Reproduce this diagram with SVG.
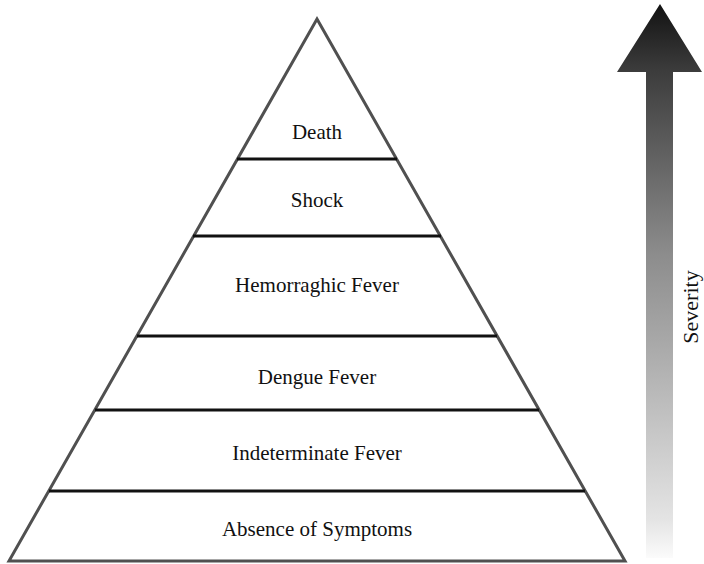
<svg xmlns="http://www.w3.org/2000/svg" width="704" height="564" viewBox="0 0 704 564">
<style>
.lbl{font-family:"Liberation Serif","Times New Roman",serif;font-size:21px;fill:#111;text-anchor:middle}
.outline{fill:none;stroke:#505050;stroke-width:3;stroke-linejoin:miter}
.div{stroke:#111;stroke-width:3}
</style>
<defs>
<linearGradient id="sev" gradientUnits="userSpaceOnUse" x1="0" y1="4" x2="0" y2="558">
<stop offset="0" stop-color="#121212"/>
<stop offset="0.12" stop-color="#3c3c3c"/>
<stop offset="0.45" stop-color="#8c8c8c"/>
<stop offset="0.62" stop-color="#aaaaaa"/>
<stop offset="0.93" stop-color="#e4e4e4"/>
<stop offset="1" stop-color="#fbfbfb"/>
</linearGradient>
</defs>
<rect width="704" height="564" fill="#fff"/>
<g id="pyramid">
<polygon class="outline" points="317,19 625,561 9,561"/>
</g>
<g id="connectors">
<line class="div" x1="237" y1="159" x2="397" y2="159"/>
<line class="div" x1="193" y1="236" x2="441" y2="236"/>
<line class="div" x1="137" y1="336" x2="497" y2="336"/>
<line class="div" x1="95" y1="410" x2="539" y2="410"/>
<line class="div" x1="49" y1="491" x2="585" y2="491"/>
</g>
<g id="death"><text class="lbl" x="317" y="139">Death</text></g>
<g id="shock"><text class="lbl" x="317" y="207">Shock</text></g>
<g id="hemorrhagic"><text class="lbl" x="317" y="292">Hemorraghic Fever</text></g>
<g id="dengue"><text class="lbl" x="317" y="384">Dengue Fever</text></g>
<g id="indeterminate"><text class="lbl" x="317" y="460">Indeterminate Fever</text></g>
<g id="absence"><text class="lbl" x="317" y="536">Absence of Symptoms</text></g>
<g id="severity">
<polygon points="660,4 702,72 673,72 673,558 646,558 646,72 617,72" fill="url(#sev)"/>
<text class="lbl" transform="translate(698,307) rotate(-90)" x="0" y="0" style="font-size:22px">Severity</text>
</g>
</svg>
